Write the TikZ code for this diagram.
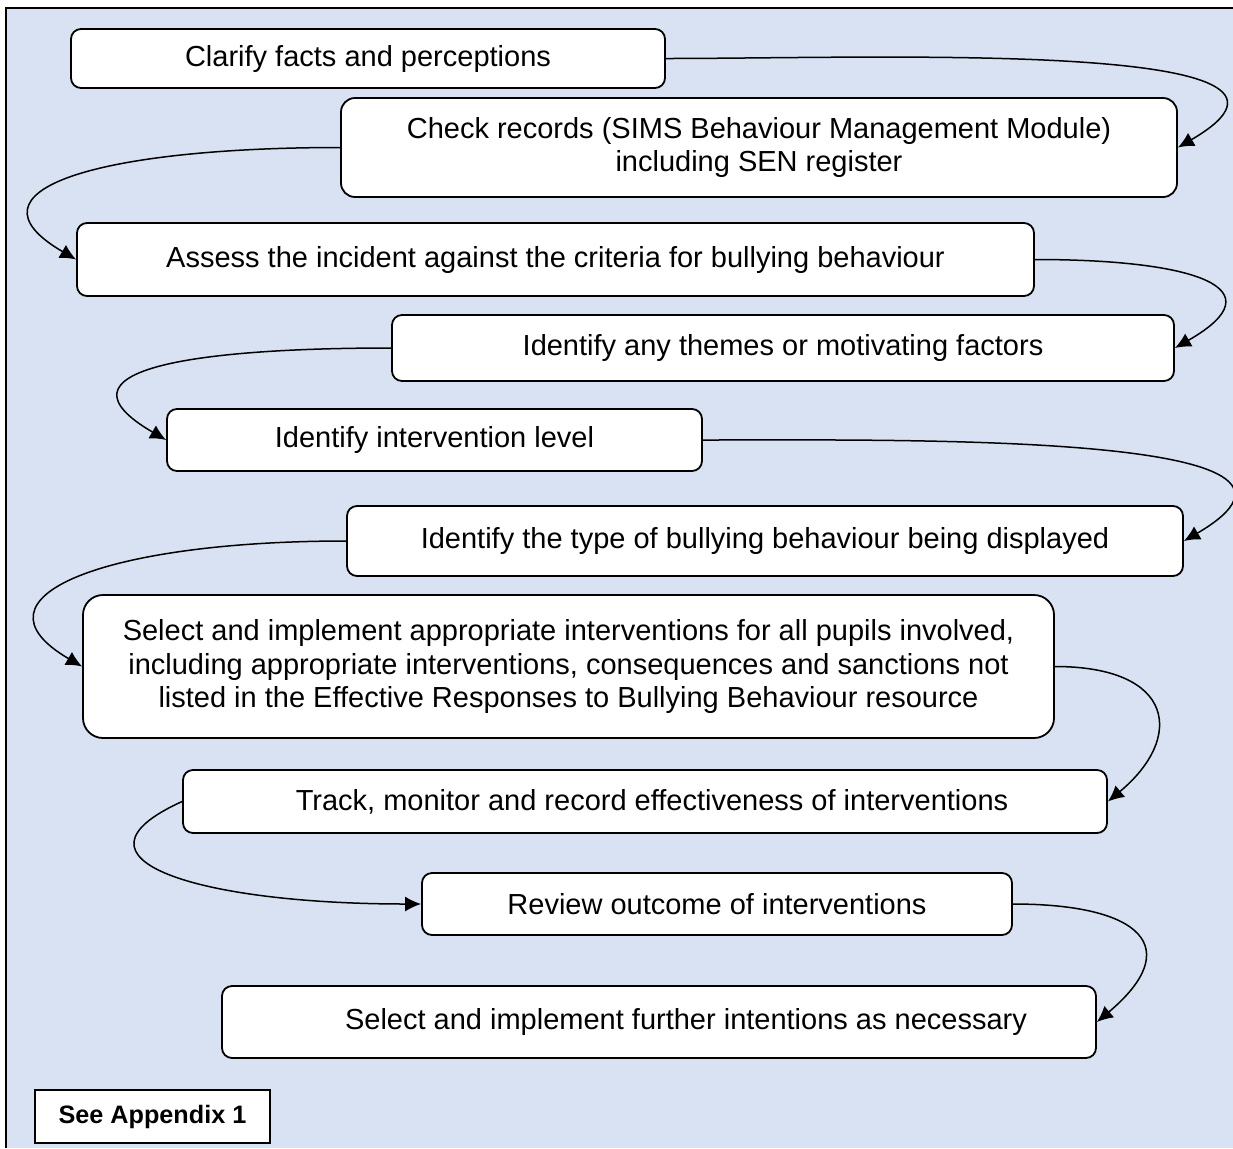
\documentclass[tikz,border=0pt]{standalone}
\usepackage{fontspec}
\setmainfont{Liberation Sans}
\usetikzlibrary{positioning}
\usetikzlibrary{arrows.meta}
\definecolor{panelblue}{RGB}{217,226,242}

\begin{document}
\begin{tikzpicture}[x=0.5pt,y=-0.5pt]

\tikzset{
    stepbox/.style={draw,fill=white,rounded corners=5pt,line width=0.9pt,inner sep=0pt,align=center,font=\boxfont},
    notebox/.style={draw,fill=white,line width=0.9pt,inner sep=0pt,font=\notefont},
    edge/.style={-{Latex[length=8pt,width=7.5pt]},line width=0.75pt}
}
% variables
\def\boxfont{\fontsize{14.5}{16.8}\selectfont}
\def\notefont{\fontsize{12.6}{15}\selectfont\bfseries}

% ----------- background panel ----------- %
\useasboundingbox (0,0) rectangle (1233,1148);
\fill[panelblue] (6,8) rectangle (1233,1148);
\draw[line width=1.2pt] (6,1148) -- (6,8) -- (1233,8);

% ------------ MAIN DIAGRAM ---------%
% nodes
\node[stepbox,minimum width=297pt,minimum height=29.5pt] (clarify) at (368,58.5) {Clarify facts and perceptions};
\node[stepbox,minimum width=418pt,minimum height=49.5pt,rounded corners=7pt] (records) at (759,147.5) {Check records (SIMS Behaviour Management Module)\\including SEN register};
\node[stepbox,minimum width=478.5pt,minimum height=36.5pt] (assess) at (555.5,259.5) {Assess the incident against the criteria for bullying behaviour};
\node[stepbox,minimum width=391pt,minimum height=33pt] (themes) at (783,348) {Identify any themes or motivating factors};
\node[stepbox,minimum width=267.5pt,minimum height=31pt] (level) at (434.5,440) {Identify intervention level};
\node[stepbox,minimum width=418pt,minimum height=35pt] (type) at (765,541) {Identify the type of bullying behaviour being displayed};
\node[stepbox,minimum width=485.5pt,minimum height=71.5pt,rounded corners=10pt] (select) at (568.5,666.5) {Select and implement appropriate interventions for all pupils involved,\\including appropriate interventions, consequences and sanctions not\\listed in the Effective Responses to Bullying Behaviour resource};
\node[stepbox,minimum width=462pt,minimum height=31.5pt] (track) at (645,801.5) {\hspace*{7pt}Track, monitor and record effectiveness of interventions};
\node[stepbox,minimum width=295pt,minimum height=31pt] (review) at (717,904) {Review outcome of interventions};
\node[stepbox,minimum width=437pt,minimum height=36pt] (further) at (659,1022) {\hspace*{27pt}Select and implement further intentions as necessary};
\node[notebox,minimum width=117.5pt,minimum height=26.5pt] (appendix) at (152.5,1116.5) {See Appendix 1};

% right hand loops
\draw[edge] (clarify.east) .. controls +(212,0) and +(186,-108) .. (records.east);
\draw[edge] (assess.east) .. controls +(160,0) and +(105,-60) .. (themes.east);
\draw[edge] (level.east) .. controls +(210,0) and +(185,-108) .. (type.east);
\draw[edge] (select.east) .. controls +(120,0) and +(77,-64) .. (track.east);
\draw[edge] (review.east) .. controls +(130,0) and +(88,-74) .. (further.east);

% left hand loops
\draw[edge] (records.west) .. controls +(-240,0) and +(-120,-70) .. (assess.west);
\draw[edge] (themes.west) .. controls +(-200,0) and +(-120,-70) .. (level.west);
\draw[edge] (type.west) .. controls +(-240,0) and +(-120,-70) .. (select.west);
\draw[edge] (track.west) .. controls +(-128,58) and +(-222,0) .. (review.west);
% -------------- END MAIN DIAGRAM -------- %

\end{tikzpicture}
\end{document}
